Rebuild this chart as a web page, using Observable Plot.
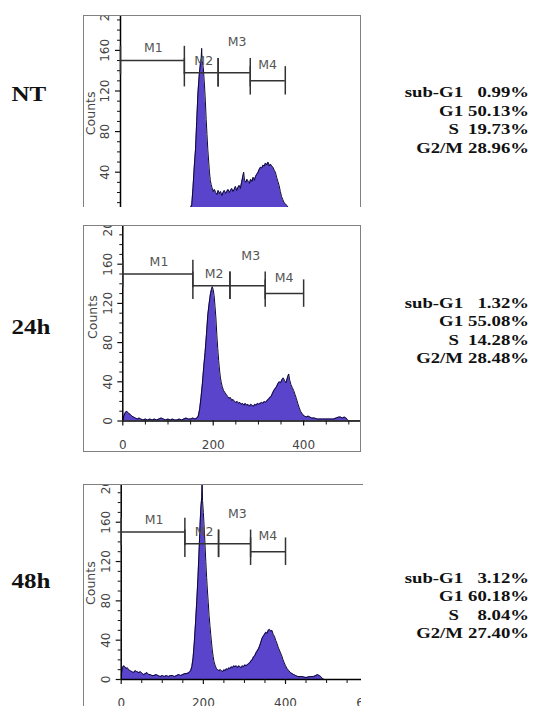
<!DOCTYPE html>
<html><head><meta charset="utf-8">
<script src="https://cdn.jsdelivr.net/npm/d3@7"></script>
<script src="https://cdn.jsdelivr.net/npm/@observablehq/plot@0.6"></script>
<style>
body{margin:0;background:#fff;}
#root{position:relative;width:544px;height:706px;overflow:hidden;background:#fff;}
.pl{position:absolute;}
.frame{position:absolute;box-sizing:border-box;border:1.5px solid #808080;pointer-events:none;}
</style></head><body><div id="root"></div>
<script>
// ---------- data ----------
const conditions = ["NT", "24h", "48h"];
const phaseLabels = ["sub-G1", "G1", "S", "G2/M"];
const phaseNT  = ["0.99%", "50.13%", "19.73%", "28.96%"];
const phase24h = ["1.32%", "55.08%", "14.28%", "28.48%"];
const phase48h = ["3.12%", "60.18%", "8.04%", "27.40%"];

const markerNames  = ["M1", "M2", "M3", "M4"];
const markerStart  = [0, 155, 237, 315];
const markerEnd    = [155, 237, 315, 400];
const markerLevel  = [150, 138, 138, 130];
const markerLabelX = [80, 202, 283, 357];
const markerLabelY = [162, 150, 168, 146];

const yTickValues = [0, 40, 80, 120, 160, 200];
const xTickValues = [0, 200, 400, 600];

const channelNT = [0,10,20,30,40,50,60,70,80,90,100,110,120,130,140,150,160,166,170,173,176,179,182,185,188,191,194,196,197,198,201,204,206,208,210,212,214,216,218,220,222,225,228,231,234,237,240,243,246,249,252,255,258,261,264,267,270,273,276,279,282,285,288,291,294,297,299,301,304,307,310,313,316,319,322,325,328,331,334,337,340,343,346,349,352,355,358,361,364,367,370,373,376,379,382,385,388,391,394,397,400,404,408,412,420,430,440,450,460,470,480,490,500,520,585];
const countsNT  = [2,3,2,3,2,2,3,2,2,2,3,2,2,3,2,3,3,4,5,8,25,45,62,90,118,135,147,152,162,150,143,125,110,92,77,62,51,40,32,28,25,21,23,20,18,22,19,21,17,20,22,19,21,23,20,22,24,21,23,26,22,25,27,24,30,36,40,32,30,33,31,29,33,31,35,32,36,38,40,43,45,44,47,46,49,47,50,46,48,46,45,42,40,35,31,27,21,16,13,10,9,7,5,4,3,2,2,3,2,2,2,1,1,0,0];

const channel24h = [0,3,6,9,12,16,20,24,28,32,36,40,45,50,55,60,65,70,75,80,85,90,95,100,105,110,115,120,125,130,135,140,145,150,155,160,164,167,170,173,176,179,182,185,188,191,194,196,198,200,202,204,206,208,210,212,214,216,218,220,223,226,229,232,235,238,241,244,247,250,253,256,259,262,265,268,271,274,277,280,283,286,289,292,295,298,301,304,307,310,313,316,319,322,325,328,331,334,337,340,343,346,349,352,355,358,361,364,367,369,372,375,378,381,384,387,390,393,396,399,402,406,410,414,418,424,430,436,442,448,454,460,466,472,478,482,486,490,494,497,500,528];
const counts24h  = [1,6,9,10,8,7,5,4,3,2,3,2,1,2,1,2,1,2,1,2,3,2,1,2,1,2,1,1,2,1,2,3,2,2,3,2,3,5,12,24,38,55,70,88,108,120,130,134,137,134,128,117,105,88,74,62,52,44,39,35,31,29,27,25,23,24,21,22,20,19,20,18,19,17,18,16,18,16,17,15,17,16,15,17,16,18,17,18,19,18,20,19,21,22,24,25,28,31,33,35,38,40,39,42,44,41,39,44,48,42,37,34,31,27,23,18,14,10,8,6,5,4,5,4,3,3,2,2,2,2,2,2,2,3,4,4,3,4,3,1,0,0];

const channel48h = [0,3,6,9,12,15,18,22,26,30,34,38,43,47,51,55,59,63,67,71,75,80,85,90,95,100,105,110,115,120,125,130,135,140,145,150,155,160,165,169,172,175,178,181,184,187,190,192,194,196,197,198,200,202,204,206,208,210,212,214,216,218,220,222,224,226,229,232,235,238,241,244,247,250,253,256,259,262,265,268,271,274,277,280,283,286,289,292,295,298,301,304,307,310,313,316,319,322,325,328,331,334,337,340,343,346,349,352,355,358,361,364,367,370,373,376,379,382,385,388,391,394,397,400,404,408,412,416,420,425,430,440,450,460,468,474,478,482,486,490,494,585];
const counts48h  = [4,12,14,13,11,12,10,9,8,7,9,8,7,8,6,5,6,7,5,5,4,4,5,4,3,4,3,4,3,4,4,3,4,5,4,5,6,6,7,9,13,22,38,58,80,105,135,158,175,185,205,182,170,155,138,120,104,90,78,65,55,46,37,29,23,18,14,11,10,9,10,9,8,10,9,11,10,12,11,13,12,14,13,14,12,14,13,12,14,13,15,14,15,16,17,19,20,23,24,27,29,31,34,38,42,44,46,48,47,50,51,49,50,46,44,40,37,33,30,27,24,20,17,14,11,9,7,6,5,4,3,3,2,3,3,4,5,4,3,1,0,0];

// ---------- layout ----------
const root = document.getElementById("root");
const PW = 278; // panel width (83 -> 361)
const panels = [
  {top: 15,  height: 192, x0: 37,   xMax: 585, y0: 197.3, y200: -5.7, showX: false, ch: channelNT,  n: countsNT,  countsY: 98,
   yLabels: [40, 80, 120, 160, 200], xLabels: [], border: {bottom: false, right: true}},
  {top: 225, height: 227, x0: 39.3, xMax: 528, y0: 195.5, y200: -0.5, showX: true,  ch: channel24h, n: counts24h, countsY: 106,
   yLabels: yTickValues, xLabels: [0, 200, 400], border: {bottom: true, right: true}},
  {top: 484, height: 222, x0: 37.7, xMax: 585, y0: 195,   y200: -1.6, showX: true,  ch: channel48h, n: counts48h, countsY: 98,
   yLabels: yTickValues, xLabels: xTickValues, border: {bottom: false, right: false}}
];

const markers = markerNames.map((name, i) => ({name, x1: markerStart[i], x2: markerEnd[i], y: markerLevel[i], lx: markerLabelX[i], ly: markerLabelY[i]}));
const markerEnds = markers.flatMap(m => [{x: m.x1, y: m.y}, {x: m.x2, y: m.y}]);
const yMinor = d3.range(0, 201, 10).filter(v => v % 40 !== 0);
const xMinor = d3.range(0, 601, 50).filter(v => v % 200 !== 0);
const fillColor = "#5a44cc";
const sans = "DejaVu Sans, Verdana, sans-serif";

panels.forEach(p => {
  const data = p.ch.map((c, i) => ({c, n: p.n[i]}));
  const marks = [
    Plot.areaY(data, {x: "c", y: "n", fill: fillColor, clip: true}),
    Plot.lineY(data, {x: "c", y: "n", stroke: "#0a0a30", strokeWidth: 1, clip: true}),
    Plot.ruleX([0], {y1: 0, y2: 200, stroke: "#000", strokeWidth: 1.5}),
    Plot.axisY(yTickValues, {anchor: "left", tickSize: 5, fill: "none", stroke: "#111", strokeWidth: 1.2, label: null}),
    Plot.axisY(yMinor, {anchor: "left", tickSize: 3, fill: "none", stroke: "#111", strokeWidth: 1, label: null}),
    Plot.text(p.yLabels, {x: 0, y: d => d, text: d => String(d), rotate: -90, dx: -15, fontSize: 12, fontFamily: sans, fill: "#444"}),
    Plot.text(["Counts"], {x: 0, y: p.countsY, text: d => d, rotate: -90, dx: -30, fontSize: 12.5, fontFamily: sans, fill: "#444"}),
    Plot.ruleY(markers, {y: "y", x1: "x1", x2: "x2", stroke: "#333", strokeWidth: 1.5}),
    Plot.ruleX(markerEnds, {x: "x", y1: d => d.y - 14, y2: d => d.y + 14, stroke: "#333", strokeWidth: 1.5}),
    Plot.text(markers, {x: "lx", y: "ly", text: "name", fontSize: 12.5, fontFamily: sans, fill: "#555"})
  ];
  if (p.showX) {
    marks.push(
      Plot.ruleY([0], {x1: 0, x2: p.xMax, stroke: "#000", strokeWidth: 1.5}),
      Plot.axisX(xTickValues, {anchor: "bottom", tickSize: 5, fill: "none", stroke: "#111", strokeWidth: 1.2, label: null}),
      Plot.axisX(p.xLabels, {anchor: "bottom", tickSize: 0, tickPadding: 19, fill: "#444", fontSize: 12, fontFamily: sans, label: null}),
      Plot.axisX(xMinor, {anchor: "bottom", tickSize: 4, fill: "none", stroke: "#111", label: null})
    );
  }
  const chart = Plot.plot({
    width: PW, height: p.height,
    marginLeft: p.x0, marginRight: 0, marginTop: 0, marginBottom: p.height - p.y0,
    x: {domain: [0, p.xMax], range: [p.x0, PW], axis: null},
    y: {domain: [0, 200], range: [p.y0, p.y200], axis: null},
    style: {background: "transparent", overflow: "hidden"},
    marks
  });
  chart.classList.add("pl");
  chart.style.left = "83px";
  chart.style.top = p.top + "px";
  root.appendChild(chart);
  const fr = document.createElement("div");
  fr.className = "frame";
  fr.style.left = "83px"; fr.style.top = p.top + "px";
  fr.style.width = PW + "px"; fr.style.height = p.height + "px";
  if (!p.border.bottom) fr.style.borderBottom = "none";
  if (!p.border.right) { fr.style.borderRight = "none"; fr.style.width = (PW + 2) + "px"; }
  root.appendChild(fr);
});

// ---------- side texts ----------
const svg = d3.select(root).append("svg")
  .attr("width", 544).attr("height", 706)
  .style("position", "absolute").style("left", 0).style("top", 0).style("pointer-events", "none");
const serif = "Liberation Serif, Times New Roman, serif";
const condBaseline = [101, 334, 588];
conditions.forEach((c, i) => {
  svg.append("text").text(c)
    .attr("transform", `translate(11.5,${condBaseline[i]}) scale(1.25,1)`)
    .attr("font-family", serif).attr("font-weight", "bold").attr("font-size", 20).attr("fill", "#111");
});
const statBaseline = [97.3, 307.7, 582.7];
[phaseNT, phase24h, phase48h].forEach((vals, k) => {
  phaseLabels.forEach((lab, j) => {
    const yb = statBaseline[k] + j * 18.4;
    svg.append("text").text(lab)
      .attr("transform", `translate(${lab === "S" ? 459 : 463},${yb}) scale(1.25,1)`)
      .attr("text-anchor", "end")
      .attr("font-family", serif).attr("font-weight", "bold").attr("font-size", 15).attr("fill", "#111");
    svg.append("text").text(vals[j])
      .attr("transform", `translate(529,${yb}) scale(1.25,1)`)
      .attr("text-anchor", "end")
      .attr("font-family", serif).attr("font-weight", "bold").attr("font-size", 15).attr("fill", "#111");
  });
});
</script>
</body></html>
